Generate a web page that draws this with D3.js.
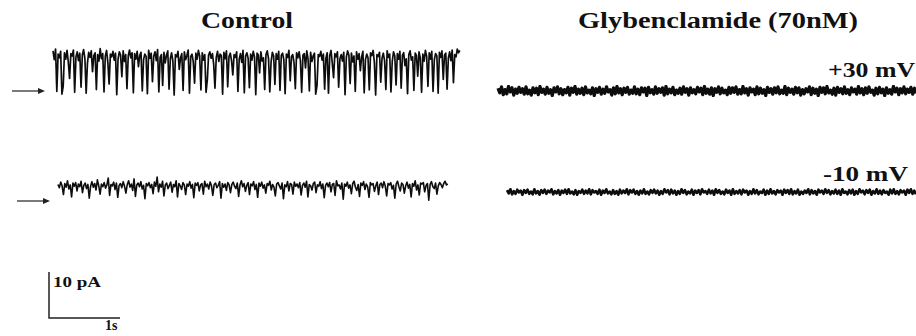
<!DOCTYPE html>
<html>
<head>
<meta charset="utf-8">
<script src="https://cdn.jsdelivr.net/npm/d3@7"></script>
<style>
  body { margin: 0; background: #fff; }
  text { font-family: "Liberation Serif", "Times New Roman", Tinos, serif; font-weight: bold; fill: #111; }
</style>
</head>
<body>
<script>
const width = 916;
const height = 336;

// current traces in pA (closed level = 0)
const ctrl30 = [
  9.8, 7.9, 10.2, 1.0, 9.1, 8.3, 9.7, 0.4, 2.1, 9.4, 8.0, 9.9, 7.4, 3.8, 9.2, 8.7,
  10.0, 0.8, 8.5, 9.6, 7.7, 9.3, 1.9, 8.9, 10.1, 8.2, 0.6, 7.1, 9.5, 8.4, 9.8, 5.3,
  8.8, 9.4, 1.4, 9.0, 7.6, 10.3, 8.1, 9.2, 0.9, 8.6, 9.9, 7.3, 2.6, 9.1, 8.5, 9.7,
  7.8, 9.3, 0.3, 8.0, 9.6, 8.9, 4.2, 9.8, 7.5, 9.0, 1.6, 8.7, 10.0, 8.3, 9.4, 0.7,
  9.2, 8.0, 9.7, 6.4, 8.8, 9.5, 1.1, 7.9, 9.1, 8.6, 0.5, 9.9, 8.2, 9.3, 3.1, 8.7,
  9.6, 7.7, 10.1, 0.9, 8.4, 9.0, 2.3, 9.5, 7.2, 8.9, 9.8, 1.5, 8.1, 9.4, 7.6, 0.2,
  9.0, 8.5, 9.7, 5.8, 8.3, 9.2, 1.2, 9.6, 7.9, 8.8, 10.0, 0.6, 8.6, 9.1, 7.4, 2.8,
  9.3, 8.0, 9.9, 8.7, 1.3, 9.4, 7.8, 9.0, 0.8, 3.5, 8.9, 9.6, 8.2, 9.2, 6.9, 1.7,
  8.4, 9.7, 7.5, 9.1, 8.8, 0.4, 9.5, 8.1, 9.8, 2.0, 8.6, 9.3, 7.7, 4.6, 9.0, 8.4,
  9.6, 1.0, 8.0, 9.2, 7.3, 9.9, 0.7, 8.7, 9.4, 8.2, 1.8, 9.1, 7.8, 9.7, 8.5, 0.3,
  9.3, 8.9, 5.0, 9.6, 7.6, 8.3, 1.4, 9.0, 9.8, 8.1, 0.9, 7.4, 9.5, 8.7, 2.5, 9.2,
  8.0, 9.7, 1.2, 8.8, 9.3, 7.9, 0.5, 9.1, 8.4, 9.9, 3.3, 8.6, 9.0, 7.2, 1.6, 9.4,
  8.3, 9.6, 7.7, 0.8, 8.9, 9.2, 6.1, 9.8, 8.0, 1.1, 9.5, 7.5, 8.7, 9.3, 0.4, 2.2,
  9.0, 8.6, 9.7, 7.8, 9.1, 1.5, 8.2, 9.4, 0.6, 8.8, 9.9, 7.1, 4.0, 9.2, 8.5, 9.6,
  1.9, 8.1, 9.0, 7.6, 9.5, 0.3, 8.4, 9.8, 8.9, 2.7, 9.3, 7.4, 8.7, 1.0, 9.6, 8.0,
  9.2, 5.5, 8.5, 9.7, 0.7, 7.9, 9.1, 8.3, 1.3, 9.4, 8.8, 9.9, 7.3, 0.2, 9.0, 8.6,
  9.5, 3.0, 8.2, 9.3, 7.7, 1.4, 9.8, 8.4, 9.1, 0.9, 7.5, 9.6, 8.7, 2.4, 9.2, 8.0,
  9.7, 1.7, 8.9, 9.4, 6.6, 8.1, 0.5, 9.0, 9.8, 7.8, 8.5, 1.2, 9.3, 8.8, 4.3, 9.6,
  8.3, 0.8, 9.1, 7.6, 9.9, 8.6, 2.1, 9.4, 8.0, 9.7, 1.0, 7.9, 9.2, 8.7, 0.6, 9.5,
  8.4, 9.8, 3.6, 8.9, 9.3, 1.5, 8.2, 9.6, 7.7, 10.0, 2.9, 9.0, 8.5, 10.2, 9.4, 9.9
];

const ctrl10 = [
  3.6, 2.9, 4.1, 3.3, 1.4, 3.8, 3.0, 4.4, 2.6, 3.5, 0.9, 3.9, 3.2, 4.0, 2.2, 3.7,
  3.1, 4.3, 1.8, 3.4, 3.9, 2.7, 3.6, 0.6, 3.2, 4.2, 3.0, 3.8, 2.4, 4.6, 3.3, 1.5,
  3.7, 3.1, 4.0, 2.8, 3.5, 5.0, 1.2, 3.6, 3.3, 4.1, 2.5, 3.9, 0.8, 3.4, 3.8, 2.9,
  4.2, 3.2, 1.7, 3.6, 4.4, 3.0, 3.7, 2.3, 4.8, 1.0, 3.5, 3.9, 3.1, 4.2, 2.6, 3.4,
  0.5, 3.8, 3.3, 4.0, 2.9, 3.6, 1.6, 4.1, 3.2, 5.2, 2.0, 3.7, 3.0, 4.3, 1.1, 3.5,
  3.9, 2.7, 3.4, 4.1, 1.9, 3.6, 3.1, 4.4, 0.9, 3.8, 3.3, 2.5, 4.0, 3.5, 1.4, 3.7,
  3.2, 4.2, 2.8, 3.6, 0.7, 3.9, 3.4, 4.0, 2.2, 3.5, 3.8, 1.5, 4.3, 3.1, 3.7, 2.6,
  4.1, 3.3, 1.2, 3.6, 3.9, 2.9, 3.4, 4.2, 0.6, 3.8, 3.0, 3.7, 2.3, 4.0, 3.5, 1.8,
  3.6, 4.1, 3.2, 2.7, 3.9, 1.0, 3.5, 4.4, 3.1, 3.8, 2.1, 3.4, 4.0, 1.4, 3.7, 3.3,
  4.2, 2.5, 3.6, 0.8, 3.9, 3.2, 4.1, 2.8, 3.5, 1.7, 3.8, 3.4, 4.3, 2.4, 3.6, 3.0,
  1.1, 3.7, 4.0, 3.3, 2.6, 3.9, 0.5, 3.5, 3.1, 4.2, 2.2, 3.8, 3.6, 1.5, 4.1, 3.2,
  3.7, 2.9, 4.0, 1.3, 3.4, 3.9, 3.0, 4.3, 0.9, 3.6, 3.3, 2.4, 3.8, 4.1, 1.8, 3.5,
  3.2, 4.2, 2.7, 3.7, 0.7, 3.4, 3.9, 3.1, 4.0, 2.0, 3.6, 3.8, 1.2, 4.4, 3.3, 3.5,
  2.6, 3.9, 0.4, 3.7, 3.2, 4.1, 2.8, 3.5, 1.6, 3.8, 4.3, 3.0, 2.3, 3.6, 1.0, 3.9,
  3.4, 4.2, 2.5, 3.7, 3.1, 0.8, 4.0, 3.5, 3.8, 2.1, 3.3, 4.1, 1.4, 3.6, 3.9, 2.9,
  4.2, 3.2, 1.1, 3.8, 3.5, 4.0, 2.6, 3.4, 0.6, 3.7, 4.3, 3.1, 2.2, 3.9, 3.6, 1.7,
  3.3, 4.1, 2.8, 3.6, 0.9, 3.8, 3.2, 4.4, 2.4, 3.5, 1.3, 3.9, 3.7, 4.0, 2.0, 3.4,
  3.8, 0.2, 3.6, 4.2, 3.1, 2.7, 3.9, 1.5, 3.3, 4.0, 3.6, 2.9, 3.8, 4.3, 3.5, 3.7
];

const glyb30 = [
  0.6, -0.4, 0.9, -0.8, 0.3, -0.6, 1.0, -0.2, 0.7, -0.9, 0.4, -0.5, 0.8, -0.3, 0.5, -0.7,
  0.9, -0.6, 0.2, -0.9, 0.7, -0.4, 0.6, -0.8, 1.0, -0.3, 0.4, -0.7, 0.8, -0.5, 0.3, -1.0,
  0.7, -0.2, 0.9, -0.6, 0.5, -0.8, 0.3, -0.4, 0.8, -0.9, 0.6, -0.3, 1.0, -0.7, 0.4, -0.5,
  0.6, -0.8, 0.9, -0.4, 0.2, -0.6, 0.7, -1.0, 0.5, -0.3, 0.8, -0.7, 0.4, -0.5, 0.9, -0.2,
  0.3, -0.9, 0.7, -0.6, 1.0, -0.4, 0.5, -0.8, 0.6, -0.3, 0.8, -0.7, 0.2, -0.5, 0.9, -0.6,
  0.4, -0.8, 0.7, -0.2, 0.6, -1.0, 0.8, -0.4, 0.3, -0.7, 0.9, -0.5, 0.5, -0.3, 0.7, -0.9,
  1.0, -0.6, 0.4, -0.4, 0.8, -0.8, 0.2, -0.5, 0.6, -0.7, 0.9, -0.3, 0.5, -0.9, 0.7, -0.4,
  0.3, -0.6, 0.8, -0.2, 0.6, -0.8, 1.0, -0.5, 0.4, -0.7, 0.7, -1.0, 0.5, -0.3, 0.9, -0.6,
  0.6, -0.4, 0.2, -0.8, 0.8, -0.5, 0.7, -0.3, 0.9, -0.7, 0.3, -0.6, 1.0, -0.4, 0.5, -0.9,
  0.7, -0.2, 0.4, -0.8, 0.9, -0.6, 0.6, -0.5, 0.3, -1.0, 0.8, -0.3, 0.5, -0.7, 0.7, -0.4,
  0.9, -0.6, 0.2, -0.5, 1.0, -0.8, 0.6, -0.3, 0.4, -0.7, 0.8, -0.4, 0.7, -0.9, 0.3, -0.6,
  0.5, -0.2, 0.9, -0.8, 0.6, -0.5, 0.4, -1.0, 0.8, -0.3, 0.7, -0.6, 1.0, -0.4, 0.2, -0.7,
  0.6, -0.9, 0.8, -0.3, 0.5, -0.6, 0.9, -0.5, 0.3, -0.8, 0.7, -0.2, 0.4, -0.7, 1.0, -0.4,
  0.5, -0.8, 0.7, -0.5, 0.9, -0.3, 0.2, -0.9, 0.6, -0.6, 0.8, -0.4, 0.4, -1.0, 0.7, -0.5,
  0.3, -0.7, 1.0, -0.2, 0.6, -0.8, 0.5, -0.4, 0.9, -0.6, 0.4, -0.3, 0.8, -0.7, 0.6, -0.5
];

const glyb10 = [
  0.4, -0.3, 0.6, -0.5, 0.2, -0.4, 0.5, -0.1, 0.3, -0.6, 0.4, -0.2, 0.5, -0.4, 0.1, -0.5,
  0.6, -0.3, 0.2, -0.6, 0.4, -0.2, 0.5, -0.4, 0.3, -0.1, 0.6, -0.5, 0.2, -0.3, 0.4, -0.6,
  0.3, -0.2, 0.5, -0.4, 0.6, -0.3, 0.1, -0.5, 0.4, -0.6, 0.2, -0.2, 0.5, -0.4, 0.3, -0.3,
  0.6, -0.5, 0.4, -0.1, 0.2, -0.4, 0.5, -0.6, 0.3, -0.2, 0.6, -0.3, 0.1, -0.5, 0.4, -0.4,
  0.2, -0.6, 0.5, -0.3, 0.3, -0.2, 0.6, -0.5, 0.4, -0.1, 0.5, -0.4, 0.2, -0.6, 0.3, -0.3,
  0.6, -0.4, 0.1, -0.5, 0.4, -0.2, 0.5, -0.3, 0.3, -0.6, 0.2, -0.4, 0.6, -0.1, 0.4, -0.5,
  0.5, -0.3, 0.3, -0.6, 0.2, -0.4, 0.6, -0.2, 0.4, -0.5, 0.1, -0.3, 0.5, -0.6, 0.3, -0.2,
  0.4, -0.5, 0.6, -0.1, 0.2, -0.4, 0.5, -0.3, 0.3, -0.6, 0.6, -0.2, 0.4, -0.4, 0.1, -0.5,
  0.5, -0.2, 0.3, -0.6, 0.6, -0.4, 0.2, -0.3, 0.4, -0.5, 0.5, -0.1, 0.3, -0.6, 0.2, -0.4,
  0.6, -0.3, 0.4, -0.5, 0.1, -0.2, 0.5, -0.6, 0.3, -0.4, 0.6, -0.3, 0.2, -0.5, 0.4, -0.1,
  0.3, -0.6, 0.5, -0.2, 0.4, -0.4, 0.6, -0.5, 0.2, -0.3, 0.5, -0.6, 0.1, -0.4, 0.3, -0.2,
  0.6, -0.5, 0.4, -0.3, 0.2, -0.6, 0.5, -0.1, 0.3, -0.4, 0.6, -0.2, 0.4, -0.5, 0.2, -0.3,
  0.5, -0.4, 0.3, -0.6, 0.6, -0.2, 0.1, -0.5, 0.4, -0.3, 0.5, -0.6, 0.2, -0.4, 0.6, -0.1,
  0.3, -0.5, 0.4, -0.2, 0.5, -0.6, 0.2, -0.3, 0.6, -0.4, 0.3, -0.5, 0.4, -0.2, 0.1, -0.6,
  0.5, -0.3, 0.6, -0.4, 0.2, -0.5, 0.4, -0.1, 0.3, -0.6, 0.5, -0.2, 0.6, -0.4, 0.3, -0.5
];

// record durations in seconds
const durations = [5.73, 5.49, 5.89, 5.76];
const conditions = ['Control', 'Glybenclamide (70nM)'];
const voltages = ['+30 mV', '-10 mV'];
const scaleBar = { pA: 10, s: 1, pALabel: '10 pA', sLabel: '1s' };

const pxPerSec = 71;
const pxPerPA = 4.6;

const svg = d3.select('body')
  .append('svg')
  .attr('width', width)
  .attr('height', height);

svg.append('defs').append('filter')
  .attr('id', 'soft')
  .append('feGaussianBlur')
  .attr('stdDeviation', 0.35);

// layout of each trace: left edge and closed-level y
const traces = [
  { data: ctrl30, x0: 53, zero: 96, dur: durations[0], w: 1.7, arrow: 91 },
  { data: ctrl10, x0: 58, zero: 201, dur: durations[1], w: 1.6, arrow: 201 },
  { data: glyb30, x0: 498, zero: 91, dur: durations[2], w: 3.2 },
  { data: glyb10, x0: 507, zero: 192, dur: durations[3], w: 2.6 }
];

traces.forEach(tr => {
  const x = d3.scaleLinear()
    .domain([0, tr.dur])
    .range([tr.x0, tr.x0 + tr.dur * pxPerSec]);
  const y = d3.scaleLinear()
    .domain([0, 10])
    .range([tr.zero, tr.zero - 10 * pxPerPA]);
  const dt = tr.dur / (tr.data.length - 1);

  const line = d3.line()
    .x((d, i) => x(i * dt))
    .y(d => y(d));

  svg.append('path')
    .datum(tr.data)
    .attr('d', line)
    .attr('fill', 'none')
    .attr('stroke', '#0d0d0d')
    .attr('stroke-width', tr.w)
    .attr('stroke-linejoin', 'round')
    .attr('filter', 'url(#soft)');

  if (tr.arrow) {
    svg.append('line')
      .attr('x1', tr.x0 - 41).attr('x2', tr.x0 - 14)
      .attr('y1', tr.arrow).attr('y2', tr.arrow)
      .attr('stroke', '#222').attr('stroke-width', 1.2);
    svg.append('path')
      .attr('d', `M${tr.x0 - 8},${tr.arrow} L${tr.x0 - 15},${tr.arrow - 3} L${tr.x0 - 15},${tr.arrow + 3} Z`)
      .attr('fill', '#222');
  }
});

// titles
svg.append('text')
  .attr('x', 201).attr('y', 28)
  .attr('font-size', 24)
  .attr('textLength', 92).attr('lengthAdjust', 'spacingAndGlyphs')
  .text(conditions[0]);

svg.append('text')
  .attr('x', 578).attr('y', 28)
  .attr('font-size', 24)
  .attr('textLength', 280).attr('lengthAdjust', 'spacingAndGlyphs')
  .text(conditions[1]);

svg.append('text')
  .attr('x', 828).attr('y', 77)
  .attr('font-size', 22)
  .attr('textLength', 87).attr('lengthAdjust', 'spacingAndGlyphs')
  .text(voltages[0]);

svg.append('text')
  .attr('x', 823).attr('y', 181)
  .attr('font-size', 22)
  .attr('textLength', 85).attr('lengthAdjust', 'spacingAndGlyphs')
  .text(voltages[1]);

// scale bar
const sx = d3.scaleLinear().domain([0, scaleBar.s]).range([49, 49 + pxPerSec]);
const sy = d3.scaleLinear().domain([0, scaleBar.pA]).range([318, 318 - scaleBar.pA * pxPerPA]);

svg.append('path')
  .attr('d', `M${sx(0)},${sy(scaleBar.pA)} L${sx(0)},${sy(0)} L${sx(scaleBar.s)},${sy(0)}`)
  .attr('fill', 'none')
  .attr('stroke', '#222')
  .attr('stroke-width', 1.5);

svg.append('text')
  .attr('x', 53).attr('y', 287)
  .attr('font-size', 14)
  .attr('textLength', 48).attr('lengthAdjust', 'spacingAndGlyphs')
  .text(scaleBar.pALabel);

svg.append('text')
  .attr('x', 105).attr('y', 330)
  .attr('font-size', 14)
  .text(scaleBar.sLabel);
</script>
</body>
</html>
